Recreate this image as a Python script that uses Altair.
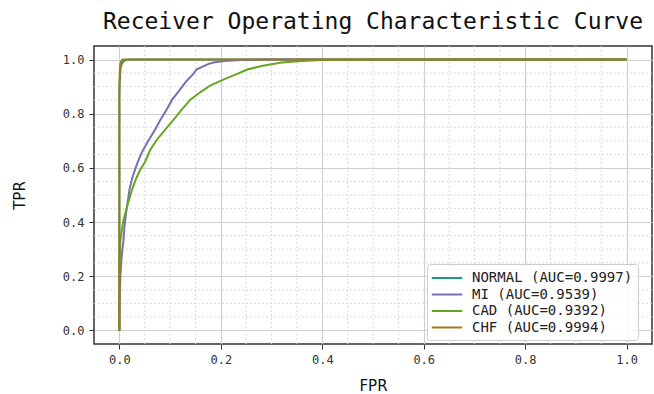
import altair as alt
import pandas as pd

# ROC curves for each class, with their AUC scores
classes = ["NORMAL", "MI", "CAD", "CHF"]
auc_scores = [0.9997, 0.9539, 0.9392, 0.9994]
colors = ["#1b9e77", "#7570b3", "#66a61e", "#a6761d"]

normal_fpr = [0.0, 0.0, 0.001, 0.002, 0.003, 0.005, 0.008, 0.012, 0.02, 1.0]
normal_tpr = [0.0, 0.87, 0.93, 0.96, 0.975, 0.985, 0.993, 0.998, 1.0, 1.0]

mi_fpr = [0.0, 0.001, 0.002, 0.004, 0.006, 0.008, 0.010, 0.013, 0.016, 0.020,
          0.025, 0.032, 0.038, 0.045, 0.057, 0.070, 0.081, 0.093, 0.104, 0.118,
          0.132, 0.145, 0.152, 0.165, 0.175, 0.185, 0.200, 0.215, 0.240, 0.260,
          0.300, 1.0]
mi_tpr = [0.0, 0.12, 0.20, 0.26, 0.30, 0.33, 0.38, 0.43, 0.47, 0.52,
          0.56, 0.60, 0.63, 0.66, 0.70, 0.74, 0.778, 0.815, 0.852, 0.885,
          0.92, 0.945, 0.963, 0.975, 0.983, 0.989, 0.993, 0.996, 0.998, 0.999,
          1.0, 1.0]

cad_fpr = [0.0, 0.0, 0.001, 0.002, 0.005, 0.008, 0.015, 0.025, 0.033, 0.041,
           0.050, 0.061, 0.074, 0.090, 0.107, 0.123, 0.140, 0.160, 0.180, 0.205,
           0.230, 0.252, 0.280, 0.320, 0.360, 0.400, 0.450, 0.500, 1.0]
cad_tpr = [0.0, 0.22, 0.28, 0.333, 0.37, 0.407, 0.456, 0.52, 0.56, 0.593,
           0.62, 0.667, 0.704, 0.74, 0.778, 0.815, 0.852, 0.88, 0.905, 0.926,
           0.945, 0.963, 0.976, 0.989, 0.995, 0.998, 0.999, 1.0, 1.0]

chf_fpr = [0.0, 0.0, 0.001, 0.002, 0.004, 0.007, 1.0]
chf_tpr = [0.0, 0.90, 0.96, 0.985, 0.995, 1.0, 1.0]

major_ticks = [0.0, 0.2, 0.4, 0.6, 0.8, 1.0]
minor_ticks = [0.05, 0.1, 0.15, 0.25, 0.3, 0.35, 0.45, 0.5, 0.55,
               0.65, 0.7, 0.75, 0.85, 0.9, 0.95]

curves = [(normal_fpr, normal_tpr), (mi_fpr, mi_tpr),
          (cad_fpr, cad_tpr), (chf_fpr, chf_tpr)]
labels = [f"{c} (AUC={a:.4f})" for c, a in zip(classes, auc_scores)]

rows = []
for label, (fpr, tpr) in zip(labels, curves):
    for i, (fx, ty) in enumerate(zip(fpr, tpr)):
        rows.append({"series": label, "fpr": fx, "tpr": ty, "step": i})
df = pd.DataFrame(rows)
minor_df = pd.DataFrame({"v": minor_ticks})

MONO = "DejaVu Sans Mono"
xscale = alt.Scale(domain=[-0.05, 1.05], nice=False, zero=False)
yscale = alt.Scale(domain=[-0.05, 1.05], nice=False, zero=False)
xaxis = alt.Axis(values=major_ticks, format=".1f", titlePadding=13)
yaxis = alt.Axis(values=major_ticks, format=".1f", titlePadding=35)

# dotted minor grid
minor_x = alt.Chart(minor_df).mark_rule(
    color="#dcdcdc", strokeWidth=1, strokeDash=[2, 2]
).encode(x=alt.X("v:Q", scale=xscale, title="FPR", axis=xaxis))

minor_y = alt.Chart(minor_df).mark_rule(
    color="#dcdcdc", strokeWidth=1, strokeDash=[2, 2]
).encode(y=alt.Y("v:Q", scale=yscale, title="TPR", axis=yaxis))

lines = alt.Chart(df).mark_line(strokeWidth=2).encode(
    x=alt.X("fpr:Q", scale=xscale, title="FPR", axis=xaxis),
    y=alt.Y("tpr:Q", scale=yscale, title="TPR", axis=yaxis),
    color=alt.Color("series:N",
                    scale=alt.Scale(domain=labels, range=colors),
                    legend=alt.Legend(title=None, orient="none",
                                      legendX=333, legendY=218)),
    order="step:Q",
)

chart = alt.layer(minor_x, minor_y, lines).properties(
    width=558,
    height=298,
    padding={"left": 94, "top": 46, "right": 2, "bottom": 50},
    autosize=alt.AutoSizeParams(type="none"),
    title=alt.Title("Receiver Operating Characteristic Curve",
                    font=MONO, fontSize=23, fontWeight="normal",
                    color="#111111", offset=12),
).configure_view(
    stroke="#333333", strokeWidth=1.5
).configure_axis(
    domain=False,
    grid=True,
    gridColor="#cfcfcf",
    gridWidth=1.2,
    tickColor="#333333",
    tickSize=5,
    tickWidth=1,
    labelFont=MONO,
    labelFontSize=12,
    labelColor="#333333",
    labelPadding=5,
    titleFont="DejaVu Sans",
    titleFontSize=15,
    titleFontWeight="normal",
    titleColor="#111111",
).configure_legend(
    labelFont=MONO,
    labelFontSize=14,
    labelColor="#222222",
    labelLimit=300,
    symbolType="M-1.9,0H1.9",
    symbolSize=256,
    symbolStrokeWidth=2,
    symbolOffset=6,
    labelOffset=16,
    rowPadding=0.5,
    padding=5,
    strokeColor="#cccccc",
    fillColor="rgba(255,255,255,0.85)",
    cornerRadius=3,
)

chart.save("out.html", embed_options={"renderer": "svg", "actions": False})
